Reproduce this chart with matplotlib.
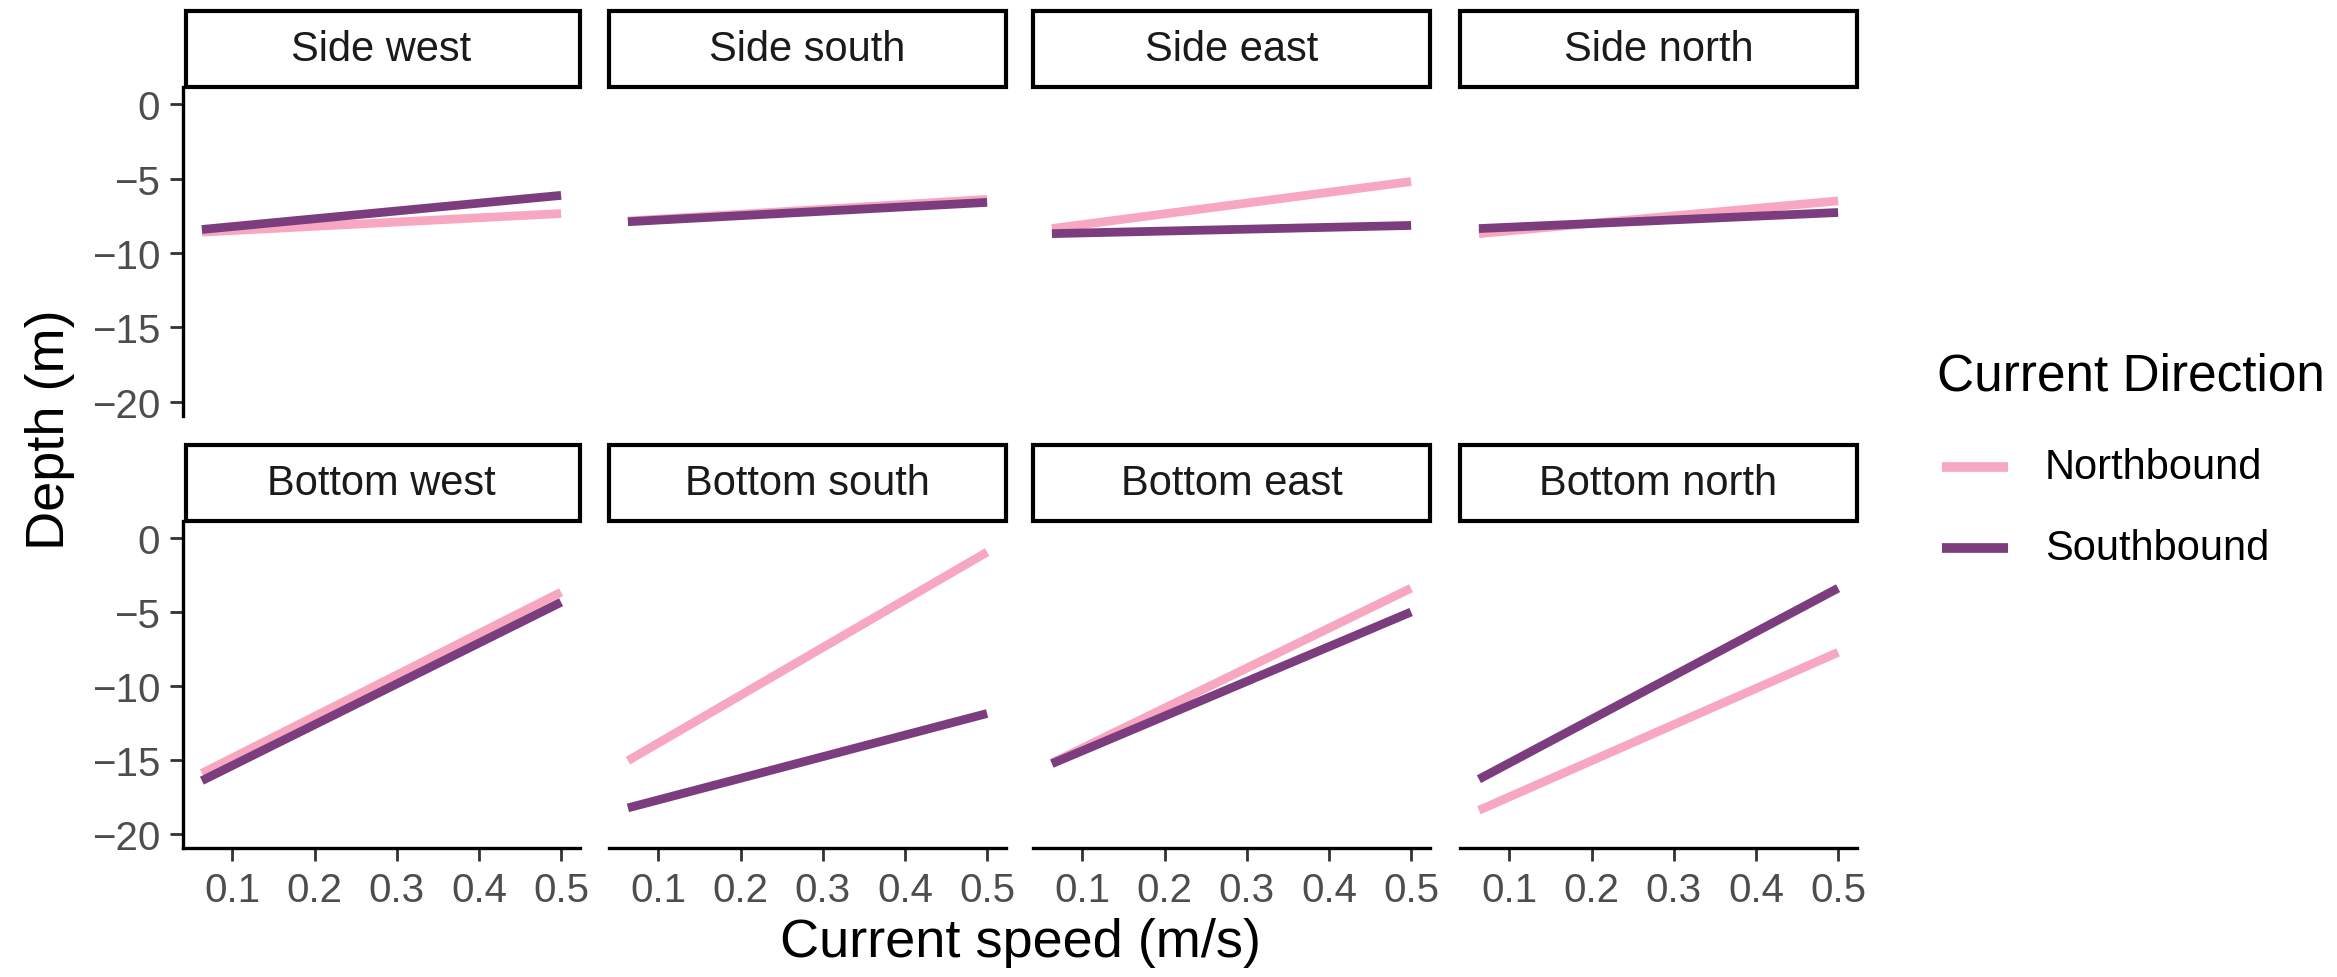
import matplotlib
matplotlib.use("Agg")
import matplotlib.pyplot as plt
from matplotlib.patches import Rectangle
from matplotlib.lines import Line2D

plt.rcParams['font.family'] = ['Liberation Sans', 'DejaVu Sans']

# Facet panels (row-major: side row, then bottom row)
panels = ["Side west", "Side south", "Side east", "Side north",
          "Bottom west", "Bottom south", "Bottom east", "Bottom north"]

# Current speed range covered by each fitted line (m/s)
speed_range = [0.063, 0.5]

# Fitted depth (m) at the low and high ends of the speed range
north_start = [-8.6, -7.85, -8.36, -8.7, -15.9, -15.05, -15.2, -18.4]
north_end = [-7.35, -6.4, -5.2, -6.5, -3.66, -0.95, -3.39, -7.73]
south_start = [-8.42, -7.9, -8.7, -8.36, -16.4, -18.24, -15.25, -16.3]
south_end = [-6.13, -6.6, -8.15, -7.28, -4.34, -11.86, -5.0, -3.39]

directions = ["Northbound", "Southbound"]
colors = {"Northbound": "#F7A8C0", "Southbound": "#7C3D7F"}

x_ticks = [0.1, 0.2, 0.3, 0.4, 0.5]
x_ticklabels = ["0.1", "0.2", "0.3", "0.4", "0.5"]
y_ticks = [0, -5, -10, -15, -20]

W, H, DPI = 2337, 978, 100
fig = plt.figure(figsize=(W / DPI, H / DPI), dpi=DPI)


def fx(px):
    return px / W


def fy(py):
    return 1 - py / H


col_left = [183, 609, 1033, 1460]
panel_w = 397
row_top = [88, 522]
row_bot = [417, 849]
strip_h = 76

line_w = 6.3
axis_w = 2.4
tick_color = "#333333"
label_color = "#4D4D4D"

for i, name in enumerate(panels):
    r, c = divmod(i, 4)
    left = col_left[c]
    top, bot = row_top[r], row_bot[r]
    ax = fig.add_axes([fx(left), fy(bot), panel_w / W, (bot - top) / H])
    ax.set_facecolor("white")

    series = {
        "Northbound": (north_start[i], north_end[i]),
        "Southbound": (south_start[i], south_end[i]),
    }
    for d in directions:
        ax.plot(speed_range, series[d], color=colors[d], lw=line_w,
                solid_capstyle="butt", zorder=3)

    ax.set_xlim(0.040, 0.523)
    ax.set_ylim(-20.95, 1.15)
    ax.set_xticks(x_ticks)
    ax.set_xticklabels(x_ticklabels)
    ax.set_yticks(y_ticks)

    for s in ["top", "right"]:
        ax.spines[s].set_visible(False)
    for s in ["left", "bottom"]:
        ax.spines[s].set_linewidth(axis_w)
        ax.spines[s].set_color("black")

    ax.tick_params(axis="both", direction="out", length=9.5, width=2.0,
                   color=tick_color, labelsize=29, labelcolor=label_color,
                   pad=7)

    if c != 0:
        ax.spines["left"].set_visible(False)
        ax.tick_params(axis="y", left=False, labelleft=False)
    if r == 0:
        ax.spines["bottom"].set_visible(False)
        ax.tick_params(axis="x", bottom=False, labelbottom=False)

    # Facet strip
    ph = bot - top
    strip = Rectangle((0.008 if c == 0 else 0.0, 1.0), 0.992 if c == 0 else 1.0,
                      strip_h / ph, transform=ax.transAxes, clip_on=False,
                      facecolor="white", edgecolor="black", lw=3.0, zorder=5)
    ax.add_patch(strip)
    ax.text(0.5, 1.0 + strip_h / ph / 2, name, transform=ax.transAxes,
            ha="center", va="center", fontsize=30, color="#1A1A1A", zorder=6)

# Axis titles
fig.text(fx(1020), fy(943), "Current speed (m/s)", ha="center", va="center",
         fontsize=39, color="black")
fig.text(fx(50), fy(430), "Depth (m)", ha="center", va="center",
         rotation=90, fontsize=39, color="black")

# Legend
fig.text(fx(1937), fy(377), "Current Direction", ha="left", va="center",
         fontsize=37, color="black")
for d, yk in zip(directions, [468, 549]):
    fig.add_artist(Line2D([fx(1942), fx(2008)], [fy(yk), fy(yk)],
                          transform=fig.transFigure, color=colors[d],
                          lw=7, solid_capstyle="butt"))
    fig.text(fx(2045), fy(yk), d, ha="left", va="center", fontsize=30,
             color="black")

fig.savefig("out.png", dpi=DPI, facecolor="white")
